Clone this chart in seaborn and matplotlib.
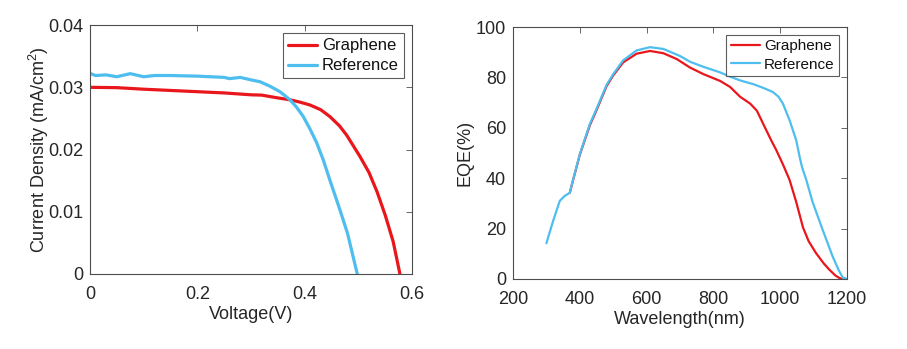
import numpy as np
import pandas as pd
import matplotlib
matplotlib.use("Agg")
import matplotlib.pyplot as plt
import seaborn as sns

# ---- J-V data ----
v_graphene = [0.0, 0.05, 0.1, 0.15, 0.2, 0.25, 0.3, 0.32, 0.35, 0.3727, 0.39, 0.41, 0.43, 0.447,
              0.465, 0.478, 0.49, 0.503, 0.52, 0.535, 0.55, 0.565, 0.5776]
j_graphene = [0.0300, 0.02995, 0.0297, 0.0295, 0.0293, 0.0291, 0.0288, 0.02875, 0.0283, 0.0280, 0.02765,
              0.02716, 0.0264, 0.0253, 0.0238, 0.02235, 0.0207, 0.0189, 0.0163, 0.0132, 0.0095, 0.0052, 0.0]
v_reference = [0.0, 0.01, 0.03, 0.05, 0.075, 0.1, 0.12, 0.15, 0.2, 0.25, 0.26, 0.28, 0.3, 0.3168,
               0.335, 0.354, 0.3727, 0.385, 0.3975, 0.41, 0.4224, 0.4347, 0.447, 0.4658, 0.48, 0.4981]
j_reference = [0.03225, 0.0319, 0.0320, 0.0317, 0.0322, 0.0317, 0.0319, 0.0319, 0.0318, 0.0316, 0.0314,
               0.0316, 0.0312, 0.0309, 0.0302, 0.0293, 0.0280, 0.0268, 0.0253, 0.0233, 0.0211, 0.01834,
               0.0151, 0.0103, 0.0065, 0.0]

# ---- EQE data ----
wl_reference = [300, 320, 340, 355, 370, 380, 400, 430, 450, 480, 500, 530, 570, 610, 650, 700, 730, 770,
                820, 850, 880, 920, 950, 978, 995, 1008, 1028, 1048, 1058, 1065, 1078, 1097, 1127, 1157,
                1175, 1187, 1200]
eqe_reference = [14.2, 23, 31.0, 33.0, 34.2, 39.5, 49.5, 61.5, 67.5, 77, 81.3, 86.8, 90.7, 92, 91.3, 88.5,
                 86.2, 84.2, 82.0, 80.3, 78.8, 77.3, 75.8, 74.2, 72.3, 69.6, 63.0, 55.0, 48.5, 44.5, 39.3,
                 30.5, 19.5, 8.9, 3.5, 0.6, 0]
wl_graphene = [370, 380, 400, 430, 450, 480, 500, 530, 570, 610, 650, 690, 730, 770, 820, 850, 880, 910,
               930, 958, 975, 988, 1008, 1028, 1048, 1068, 1085, 1107, 1130, 1147, 1165, 1177, 1185]
eqe_graphene = [34.2, 39.3, 49.3, 61, 67, 76.5, 80.8, 86.0, 89.4, 90.5, 89.6, 87.3, 83.9, 81.3, 78.6, 76.2,
                72.3, 69.6, 66.8, 59.1, 54.5, 51.2, 45.5, 39.3, 30.5, 20.5, 15.0, 10.3, 6.2, 3.7, 1.4, 0.4, 0]

RED = "#E9161C"
BLUE = "#4DBEEE"
AX = "#4d4d4d"
TXT = "#262626"

sns.set_style("white")
plt.rcParams["font.family"] = ["Liberation Sans", "DejaVu Sans"]
plt.rcParams["mathtext.default"] = "regular"

fig = plt.figure(figsize=(9.07, 3.49), dpi=100)
ax1 = fig.add_axes([0.0992, 0.215, 0.355, 0.713])
ax2 = fig.add_axes([0.5656, 0.2006, 0.3683, 0.722])

df_jv = pd.concat([
    pd.DataFrame({"V": v_graphene, "J": j_graphene, "s": "Graphene"}),
    pd.DataFrame({"V": v_reference, "J": j_reference, "s": "Reference"}),
])
df_eqe = pd.concat([
    pd.DataFrame({"wl": wl_graphene, "eqe": eqe_graphene, "s": "Graphene"}),
    pd.DataFrame({"wl": wl_reference, "eqe": eqe_reference, "s": "Reference"}),
])
pal = {"Graphene": RED, "Reference": BLUE}

sns.lineplot(data=df_jv, x="V", y="J", hue="s", palette=pal, ax=ax1, linewidth=2.3, sort=False, estimator=None)
sns.lineplot(data=df_eqe, x="wl", y="eqe", hue="s", palette=pal, ax=ax2, linewidth=1.6, sort=False, estimator=None)

ax1.set_xlim(0, 0.6)
ax1.set_ylim(0, 0.04)
ax1.set_xticks([0, 0.2, 0.4, 0.6])
ax1.set_xticklabels(["0", "0.2", "0.4", "0.6"])
ax1.set_yticks([0, 0.01, 0.02, 0.03, 0.04])
ax1.set_yticklabels(["0", "0.01", "0.02", "0.03", "0.04"])
ax1.set_xlabel("Voltage(V)", fontsize=13, color=TXT, labelpad=2)
ax1.set_ylabel("Current Density (mA/cm$^2$)", fontsize=13, color=TXT, labelpad=-2)

ax2.set_xlim(200, 1200)
ax2.set_ylim(0, 100)
ax2.set_xticks(range(200, 1201, 200))
ax2.set_yticks(range(0, 101, 20))
ax2.set_xlabel("Wavelength(nm)", fontsize=13, color=TXT, labelpad=2)
ax2.set_ylabel("EQE(%)", fontsize=13, color=TXT, labelpad=2)

for ax, fs, hl in ((ax1, 12, 1.75), (ax2, 11, 1.9)):
    for sp in ax.spines.values():
        sp.set_visible(True)
        sp.set_color(AX)
        sp.set_linewidth(0.8)
    ax.tick_params(direction="in", length=4, width=0.6, colors=AX, labelcolor=TXT,
                   labelsize=13, top=True, right=True)
    ax.tick_params(axis="x", pad=9)
    ax.tick_params(axis="y", pad=5)
    leg = ax.legend(loc="upper right", fontsize=fs, frameon=True, fancybox=False,
                    edgecolor="#333333", borderaxespad=0.5, handlelength=hl,
                    handletextpad=0.3, labelspacing=0.3, borderpad=0.3)
    leg.get_frame().set_linewidth(0.8)
    for t in leg.get_texts():
        t.set_color("#111111")

fig.savefig("out.png", dpi=100)
